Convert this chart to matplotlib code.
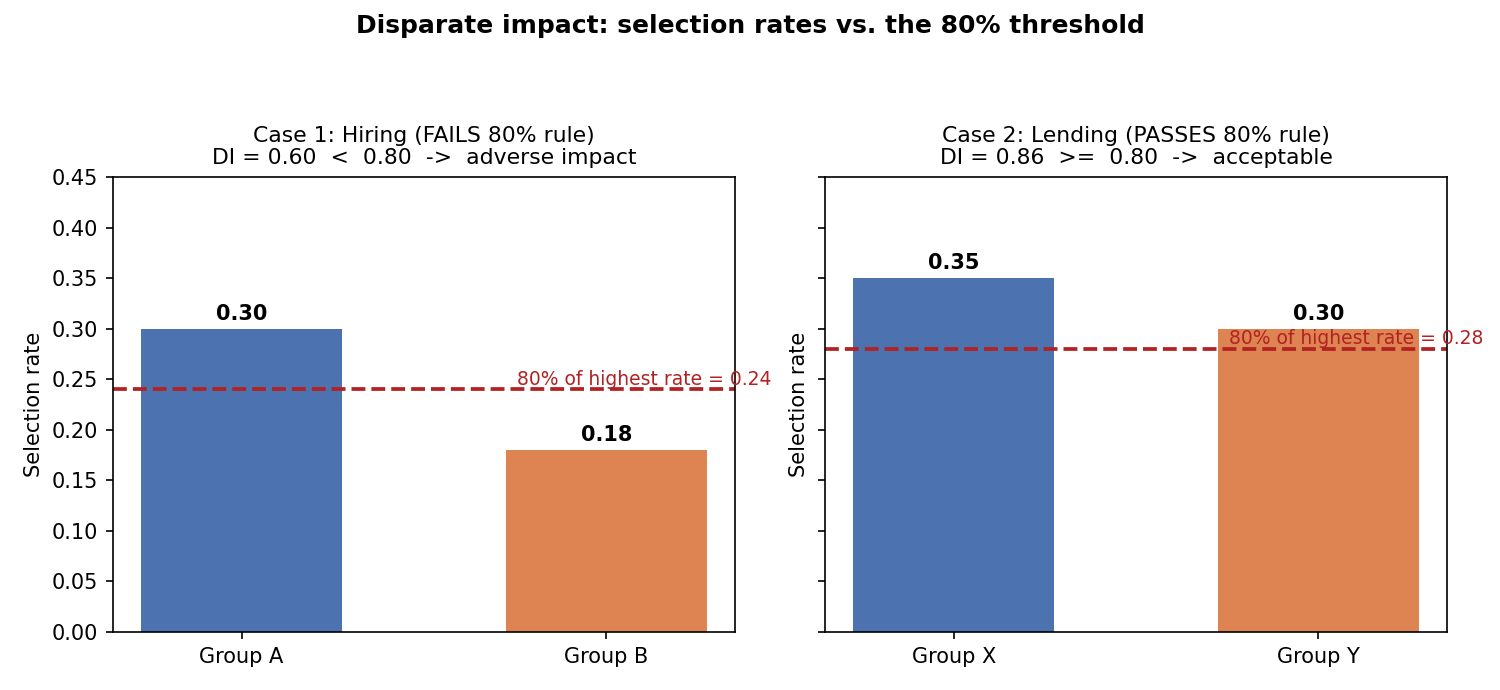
import matplotlib.pyplot as plt

# data
groups_1 = ["Group A", "Group B"]
rates_1 = [0.30, 0.18]
groups_2 = ["Group X", "Group Y"]
rates_2 = [0.35, 0.30]
titles = ["Case 1: Hiring (FAILS 80% rule)\nDI = 0.60  <  0.80  ->  adverse impact",
          "Case 2: Lending (PASSES 80% rule)\nDI = 0.86  >=  0.80  ->  acceptable"]
colors = ["#4C72B0", "#DD8452"]

fig, axes = plt.subplots(1, 2, figsize=(15, 6.9), dpi=100, sharey=True)
fig.subplots_adjust(left=0.0753, right=0.9647, top=0.7435, bottom=0.084, wspace=0.145)

for ax, groups, rates, title in zip(axes, [groups_1, groups_2], [rates_1, rates_2], titles):
    x = range(len(groups))
    ax.bar(x, rates, width=0.55, color=colors)
    for xi, r in zip(x, rates):
        ax.text(xi, r + 0.005, f"{r:.2f}", ha="center", va="bottom",
                fontsize=15, fontweight="bold")
    thr = 0.8 * max(rates)
    ax.axhline(thr, color="#B22222", linestyle="--", linewidth=2.7)
    ax.text(0.754, thr + 0.0005, f"80% of highest rate = {thr:.2f}", color="#B22222",
            fontsize=13.5, ha="left", va="bottom", clip_on=False)
    ax.set_xticks(list(x))
    ax.set_xticklabels(groups, fontsize=15)
    ax.set_title(title, fontsize=15.75, pad=9, linespacing=1.15)
    ax.set_ylabel("Selection rate", fontsize=15, labelpad=6)
    ax.tick_params(axis="y", labelsize=15)
    ax.tick_params(length=5.25, width=1.2, pad=5.25)
    for s in ax.spines.values():
        s.set_linewidth(1.2)

axes[0].set_ylim(0, 0.45)
fig.suptitle("Disparate impact: selection rates vs. the 80% threshold",
             fontsize=18, fontweight="bold", y=0.98)

plt.savefig("out.png")
